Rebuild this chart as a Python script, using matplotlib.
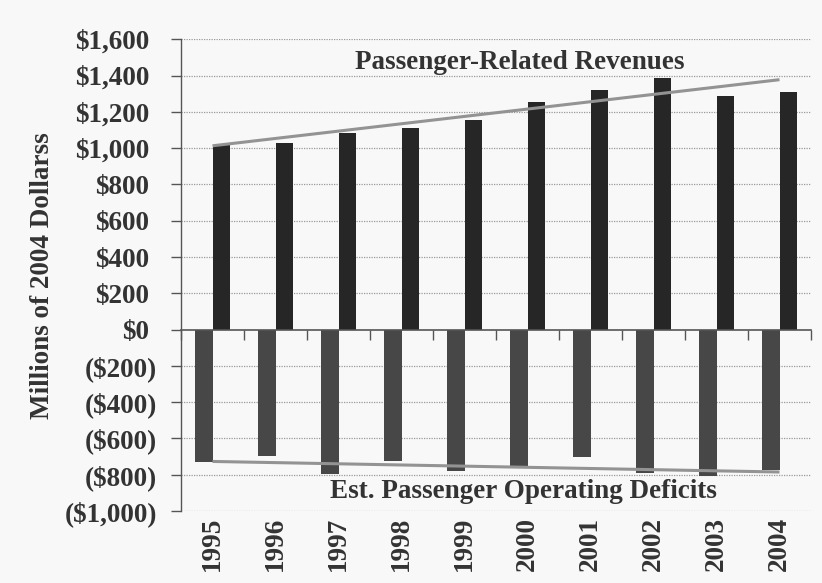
import numpy as np
import matplotlib
matplotlib.use("Agg")
import matplotlib.pyplot as plt
from matplotlib.ticker import FixedLocator, FuncFormatter
from matplotlib.transforms import ScaledTranslation, blended_transform_factory

years = ["1995", "1996", "1997", "1998", "1999", "2000", "2001", "2002", "2003", "2004"]
revenues = [1017, 1028, 1083, 1111, 1157, 1252, 1322, 1387, 1287, 1308]
deficits = [-732, -695, -794, -726, -782, -754, -701, -793, -809, -774]
y_ticks = [-1000, -800, -600, -400, -200, 0, 200, 400, 600, 800, 1000, 1200, 1400, 1600]

plt.rcParams["font.family"] = ["Liberation Serif", "DejaVu Serif"]
plt.rcParams["font.weight"] = "bold"

TEXT = "#333333"
bg = "#f8f8f8"
FS = 19.5

fig = plt.figure(figsize=(8.22, 5.83), dpi=100, facecolor=bg)
ax = fig.add_axes([181 / 822, 1 - 511 / 583, 630 / 822, (511 - 39.3) / 583])
ax.set_facecolor(bg)

x = np.arange(len(years))
w = 0.28
ax.bar(x - w / 2, deficits, width=w, color="#474747", zorder=3)
ax.bar(x + w / 2, revenues, width=w, color="#262626", zorder=3)

# linear trendlines through each series
for vals in (revenues, deficits):
    k, b = np.polyfit(x, vals, 1)
    ax.plot(x, k * x + b, color="#939393", lw=2.2, zorder=4, solid_capstyle="butt")

ax.set_xlim(-0.5, len(years) - 0.5)
ax.set_ylim(-1000, 1600)

# dotted gridlines
for v in y_ticks:
    if v != 0:
        ax.axhline(v, color="#9a9a9a", lw=0.9, ls=(0, (1, 1)), zorder=1)

ax.spines["top"].set_visible(False)
ax.spines["right"].set_visible(False)
ax.spines["left"].set_color("#555555")
ax.spines["left"].set_linewidth(1.0)
ax.spines["bottom"].set_position(("data", 0))
ax.spines["bottom"].set_color("#555555")
ax.spines["bottom"].set_linewidth(1.2)
ax.spines["bottom"].set_zorder(5)

ax.yaxis.set_major_locator(FixedLocator(y_ticks))


def money(v, pos):
    if v < 0:
        return f"(${-v:,.0f})"
    return f"${v:,.0f}"


ax.yaxis.set_major_formatter(FuncFormatter(money))
ax.tick_params(axis="y", direction="out", length=7, width=1, color="#555555",
               pad=10, labelsize=FS, labelcolor=TEXT)
shift = ScaledTranslation(-8 / 100, 0, fig.dpi_scale_trans)
for lab, v in zip(ax.get_yticklabels(), y_ticks):
    lab.set_fontweight("bold")
    if v >= 0:
        lab.set_transform(lab.get_transform() + shift)

ax.set_xticks(np.arange(-0.5, len(years), 1.0))
ax.set_xticklabels([])
ax.tick_params(axis="x", direction="out", length=7, width=1, color="#555555")

trans = blended_transform_factory(ax.transData, ax.transAxes)
for i, yr in enumerate(years):
    ax.text(i, 0, yr, transform=trans + ScaledTranslation(0, -6 / 100, fig.dpi_scale_trans),
            rotation=90, ha="center", va="top", fontsize=FS, fontweight="bold", color=TEXT)

ax.set_ylabel("Millions of 2004 Dollarss", fontsize=FS, fontweight="bold", color=TEXT)
ax.yaxis.set_label_coords(-0.2, 0.5)

ax.text(4.88, 1470, "Passenger-Related Revenues", ha="center", va="center",
        fontsize=FS, fontweight="bold", color=TEXT, zorder=6)
ax.text(4.94, -890, "Est. Passenger Operating Deficits", ha="center", va="center",
        fontsize=FS, fontweight="bold", color=TEXT, zorder=6)

fig.savefig("out.png", dpi=100, facecolor=bg)
